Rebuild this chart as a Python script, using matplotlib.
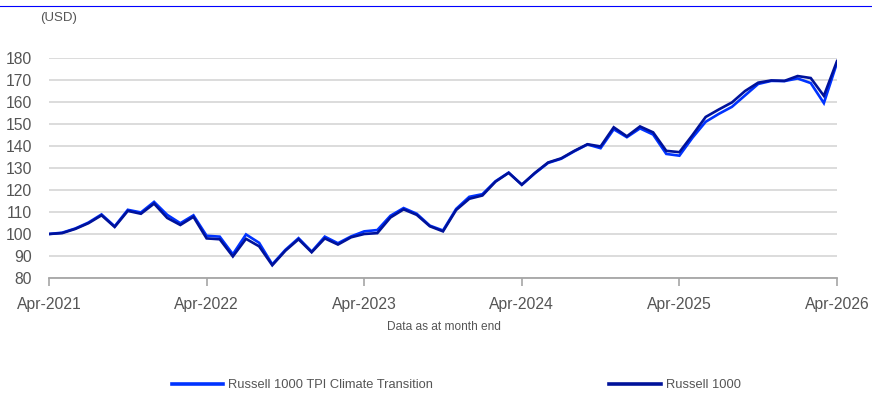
import matplotlib
matplotlib.use("Agg")
import matplotlib.pyplot as plt
from matplotlib.lines import Line2D

plt.rcParams['font.family'] = ['Liberation Sans', 'DejaVu Sans']

# Month-end index levels, Apr-2021 = 100
months = list(range(61))
tick_labels = ["Apr-2021", "Apr-2022", "Apr-2023", "Apr-2024", "Apr-2025", "Apr-2026"]

tpi = [100.0, 100.6, 102.5, 105.2, 108.9, 103.5, 111.0, 109.8, 114.6, 108.7,
       104.9, 108.5, 99.2, 98.8, 90.8, 99.8, 96.0, 86.2, 92.8, 98.1,
       92.0, 98.8, 95.8, 98.9, 101.2, 101.8, 108.3, 111.8, 109.2, 103.8,
       101.6, 111.4, 116.9, 118.1, 124.0, 127.9, 122.4, 127.6, 132.3, 134.2,
       137.6, 140.7, 139.0, 147.6, 144.0, 148.0, 145.2, 136.4, 135.6, 143.8,
       151.0, 154.6, 157.8, 163.0, 168.2, 169.6, 169.5, 170.7, 168.6, 159.5,
       177.8]

russell = [100.0, 100.4, 102.3, 104.9, 108.5, 103.2, 110.5, 109.2, 113.8, 107.3,
           104.1, 107.8, 98.0, 97.6, 89.8, 97.8, 94.4, 85.8, 92.4, 97.6,
           91.7, 98.0, 95.2, 98.5, 100.0, 100.4, 107.5, 111.2, 108.7, 103.5,
           101.2, 110.9, 116.0, 117.5, 123.8, 127.8, 122.4, 127.8, 132.5, 134.4,
           137.8, 140.8, 139.8, 148.5, 144.4, 148.9, 146.2, 137.8, 137.2, 145.0,
           153.2, 156.6, 159.8, 165.0, 168.8, 169.8, 169.6, 171.8, 170.9, 162.8,
           178.6]

tpi_color = "#0033ff"
russell_color = "#00129a"
grey = "#555555"

fig = plt.figure(figsize=(8.72, 3.94), dpi=100)
ax = fig.add_axes([49 / 872, 116 / 394, 788 / 872, 220 / 394])

# thin rule across the top of the figure
fig.add_artist(Line2D([0, 1], [1 - 5.5 / 394, 1 - 5.5 / 394], color="#0000ff", lw=0.8))

ax.plot(months, tpi, color=tpi_color, lw=1.9, solid_joinstyle="miter", zorder=3)
ax.plot(months, russell, color=russell_color, lw=1.9, solid_joinstyle="miter", zorder=4)

ax.set_xlim(0, 60)
ax.set_ylim(80, 180)
ax.set_yticks(range(80, 181, 10))
ax.set_xticks(range(0, 61, 12))
ax.set_xticklabels(tick_labels)

ax.grid(axis="y", color="#d9d9d9", lw=1.3)
ax.set_axisbelow(True)
for side in ("left", "right", "top"):
    ax.spines[side].set_visible(False)
ax.spines["bottom"].set_color("#a6a6a6")
ax.spines["bottom"].set_linewidth(1.3)
ax.tick_params(axis="x", colors="#a6a6a6", length=6, width=1.2, labelcolor=grey,
               labelsize=11.3, pad=8)
ax.tick_params(axis="y", length=0, labelcolor=grey, labelsize=11.3, pad=12)

fig.text(40 / 872, 1 - 18 / 394, "(USD)", fontsize=9.5, color=grey, va="center")
fig.text(444 / 872, 1 - 327 / 394, "Data as at month end", fontsize=8.6,
         color=grey, ha="center", va="center")

handles = [Line2D([], [], color=tpi_color, lw=2.6),
           Line2D([], [], color=russell_color, lw=2.6)]
fig.legend(handles, ["Russell 1000 TPI Climate Transition", "Russell 1000"],
           loc="center left", bbox_to_anchor=(160 / 872, 1 - 385 / 394),
           ncol=2, frameon=False, fontsize=9.3, handlelength=4.0,
           handletextpad=0.4, columnspacing=13.6, labelcolor=grey)

fig.savefig("out.png", dpi=100)
